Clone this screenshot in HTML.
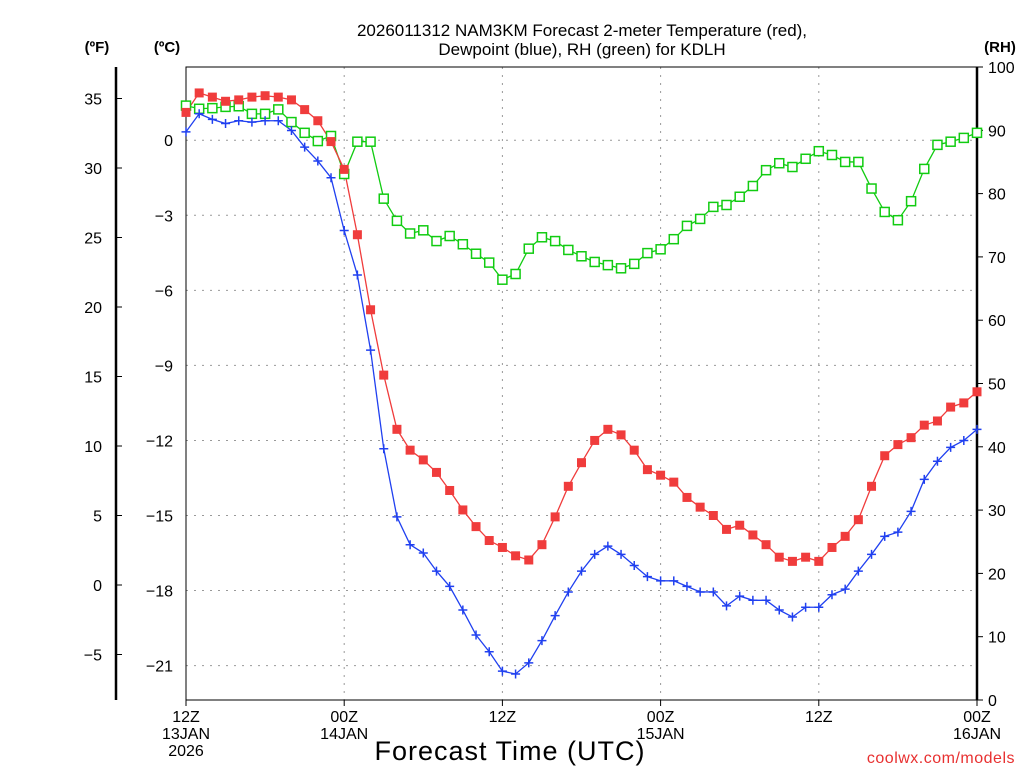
<!DOCTYPE html>
<html><head><meta charset="utf-8"><style>
html,body{margin:0;padding:0;background:#fff}
svg{display:block;font-family:"Liberation Sans","DejaVu Sans",sans-serif}
</style></head><body>
<svg id="chart" width="1024" height="768" viewBox="0 0 1024 768" xmlns="http://www.w3.org/2000/svg">
<rect width="1024" height="768" fill="#fff"/>
<text x="582" y="36" font-size="17" text-anchor="middle">2026011312 NAM3KM Forecast 2-meter Temperature (red),</text>
<text x="582" y="55" font-size="17" text-anchor="middle">Dewpoint (blue), RH (green) for KDLH</text>
<text x="97" y="52" font-size="15" font-weight="bold" text-anchor="middle">(ºF)</text>
<text x="167" y="52" font-size="15" font-weight="bold" text-anchor="middle">(ºC)</text>
<text x="1000" y="52" font-size="15" font-weight="bold" text-anchor="middle">(RH)</text>
<text x="510" y="760" font-size="27" text-anchor="middle" letter-spacing="1">Forecast Time (UTC)</text>
<text x="1015" y="763" font-size="16" fill="#e83030" text-anchor="end" letter-spacing="0.5">coolwx.com/models</text>
<g id="grid"></g>
<g id="axes"></g>
<g id="series"></g>
</svg>
<script>
const hours = [];
for (let h = 0; h <= 60; h++) hours.push(h);
const tempF = [34.0,35.4,35.1,34.8,34.9,35.1,35.2,35.1,34.9,34.2,33.4,31.9,29.9,25.2,19.8,15.1,11.2,9.7,9.0,8.1,6.8,5.4,4.2,3.2,2.7,2.1,1.8,2.9,4.9,7.1,8.8,10.4,11.2,10.8,9.7,8.3,7.9,7.4,6.3,5.6,5.0,4.0,4.3,3.6,2.9,2.0,1.7,2.0,1.7,2.7,3.5,4.7,7.1,9.3,10.1,10.6,11.5,11.8,12.8,13.1,13.9];
const dewF = [32.6,33.9,33.5,33.2,33.4,33.3,33.4,33.4,32.7,31.5,30.5,29.3,25.5,22.3,16.9,9.8,4.9,2.9,2.3,1.0,-0.1,-1.8,-3.6,-4.8,-6.2,-6.4,-5.6,-4.0,-2.2,-0.5,1.0,2.2,2.8,2.2,1.4,0.6,0.3,0.3,-0.1,-0.5,-0.5,-1.5,-0.8,-1.1,-1.1,-1.8,-2.3,-1.6,-1.6,-0.7,-0.3,1.0,2.2,3.5,3.8,5.3,7.6,8.9,9.9,10.4,11.2];
const rh = [93.9,93.4,93.5,93.7,93.8,92.6,92.6,93.3,91.3,89.6,88.3,89.1,83.1,88.2,88.2,79.2,75.7,73.7,74.2,72.5,73.3,72.0,70.5,69.1,66.4,67.3,71.3,73.1,72.5,71.1,70.1,69.2,68.7,68.2,68.9,70.6,71.2,72.8,74.9,76.0,77.9,78.2,79.5,81.2,83.7,84.8,84.2,85.5,86.7,86.1,85.0,85.0,80.8,77.1,75.8,78.8,83.9,87.7,88.2,88.8,89.6];
const fTicks = [35,30,25,20,15,10,5,0,-5];
const cTicks = [0,-3,-6,-9,-12,-15,-18,-21];
const rhTicks = [0,10,20,30,40,50,60,70,80,90,100];
const xTickHours = [0,12,24,36,48,60];
const xTickLabels = [["12Z","13JAN","2026"],["00Z","14JAN"],["12Z"],["00Z","15JAN"],["12Z"],["00Z","16JAN"]];

const NS = "http://www.w3.org/2000/svg";
const L = 186, R = 977, T = 67, B = 700;
const xS = h => L + h * (R - L) / 60;
const yF = f => 585 - f * 13.9;
const yC = c => yF(c * 9 / 5 + 32);
const yRH = v => B - v * (B - T) / 100;
function mk(tag, attrs, parent) {
  const e = document.createElementNS(NS, tag);
  for (const k in attrs) e.setAttribute(k, attrs[k]);
  parent.appendChild(e);
  return e;
}
const grid = document.getElementById('grid');
const axes = document.getElementById('axes');
const series = document.getElementById('series');

cTicks.forEach(c => {
  const y = yC(c);
  const g = mk('line', {x1: L, x2: R, y1: y, y2: y, stroke: '#999', 'stroke-dasharray': '2,6'}, grid);
  
  
  const t = mk('text', {x: 173, y: y + 6, 'font-size': 16, 'text-anchor': 'end'}, axes);
  t.textContent = c === 0 ? '0' : '\u2212' + Math.abs(c);
  
  
});
xTickHours.forEach((h, i) => {
  const x = xS(h);
  if (h > 0 && h < 60) {
    const g = mk('line', {x1: x, x2: x, y1: T, y2: B, stroke: '#999', 'stroke-dasharray': '2,6'}, grid);
    
    
  }
  mk('line', {x1: x, x2: x, y1: B, y2: B + 6, stroke: '#000'}, axes);
  xTickLabels[i].forEach((s, j) => {
    const t = mk('text', {x: x, y: 722 + j * 17, 'font-size': 16, 'text-anchor': 'middle'}, axes);
    t.textContent = s;
    
    
  });
});
fTicks.forEach(f => {
  const y = yF(f);
  mk('line', {x1: 116, x2: 122, y1: y, y2: y, stroke: '#000'}, axes);
  const t = mk('text', {x: 102, y: y + 6, 'font-size': 16, 'text-anchor': 'end'}, axes);
  t.textContent = f < 0 ? '\u2212' + Math.abs(f) : String(f);
  
  
});
rhTicks.forEach(v => {
  const y = yRH(v);
  mk('line', {x1: R, x2: R + 6, y1: y, y2: y, stroke: '#000'}, axes);
  const t = mk('text', {x: 988, y: y + 6, 'font-size': 16, 'text-anchor': 'start'}, axes);
  t.textContent = String(v);
  
  
});
const fr = mk('rect', {x: L, y: T, width: R - L, height: B - T, fill: 'none', stroke: '#000', 'stroke-width': 1}, axes);


mk('line', {x1: R, x2: R, y1: T, y2: B, stroke: '#000', 'stroke-width': 2.5}, axes);
const fa = mk('line', {x1: 116, x2: 116, y1: T, y2: B, stroke: '#000', 'stroke-width': 2.5}, axes);



function line(vals, yfn, color, name) {
  const pts = vals.map((v, i) => xS(hours[i]) + ',' + yfn(v)).join(' ');
  const p = mk('polyline', {points: pts, fill: 'none', stroke: color, 'stroke-width': 1.3}, series);
  
  
}
line(rh, yRH, '#11cc11', 'rh-line');
line(tempF, yF, '#f03c3c', 'temperature-line');
line(dewF, yF, '#2040f0', 'dewpoint-line');
rh.forEach((v, i) => {
  const m = mk('rect', {x: xS(hours[i]) - 4.5, y: yRH(v) - 4.5, width: 9, height: 9, fill: '#fff', stroke: '#11cc11', 'stroke-width': 1.5}, series);
  
  
});
tempF.forEach((v, i) => {
  const m = mk('rect', {x: xS(hours[i]) - 4.5, y: yF(v) - 4.5, width: 9, height: 9, fill: '#f03c3c'}, series);
  
  
});
dewF.forEach((v, i) => {
  const x = xS(hours[i]), y = yF(v);
  const m = mk('path', {d: `M${x-4.5},${y}H${x+4.5}M${x},${y-4.5}V${y+4.5}`, stroke: '#2040f0', 'stroke-width': 1.5}, series);
  
  
});
</script>
</body></html>
